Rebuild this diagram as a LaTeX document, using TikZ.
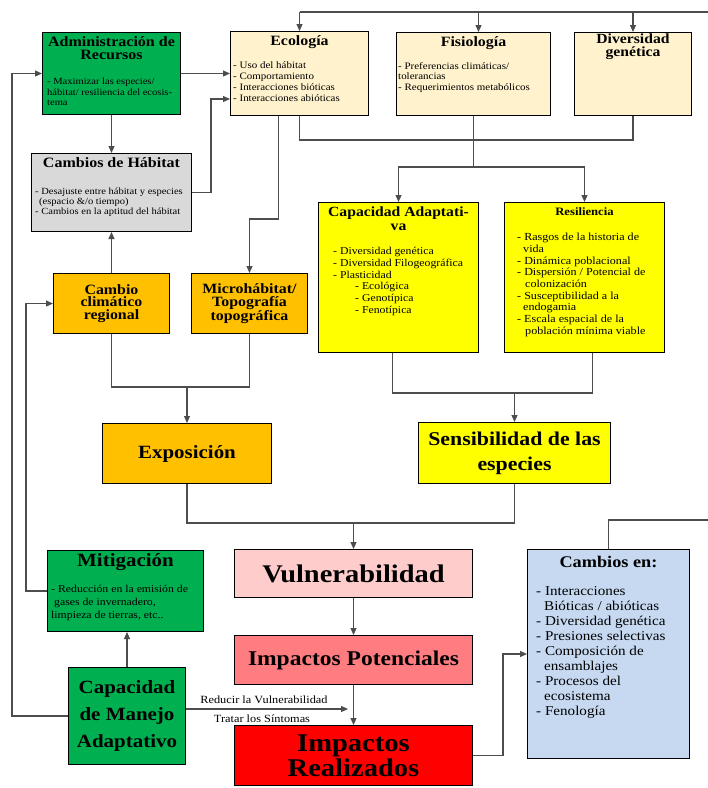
\documentclass[tikz,border=0pt]{standalone}
\usepackage{fontspec}
\setmainfont[FakeStretch=1.12]{Liberation Serif}
\usetikzlibrary{positioning,arrows.meta}
\definecolor{verde}{HTML}{00B050}
\definecolor{crema}{HTML}{FFF2CC}
\definecolor{grisclaro}{HTML}{D9D9D9}
\definecolor{naranja}{HTML}{FFC000}
\definecolor{amarillo}{HTML}{FFFF00}
\definecolor{rosa}{HTML}{FFCCCC}
\definecolor{salmon}{HTML}{FF7C80}
\definecolor{rojo}{HTML}{FF0000}
\definecolor{celeste}{HTML}{C6D9F1}
\definecolor{linea}{HTML}{4D4D4D}
\newcommand{\tam}[2]{\fontsize{#1}{#2}\selectfont}

\tikzset{
  caja/.style={draw=black, line width=1pt, inner sep=0pt, anchor=north west},
  titulo/.style={align=center, inner sep=0pt, anchor=north},
  cuerpo/.style={align=left, inner sep=0pt, anchor=north west},
  conector/.style={draw=linea, line width=1.1pt},
  flecha/.style={conector, -{Triangle[length=7pt,width=6pt]}}
}

\begin{document}
\begin{tikzpicture}[x=1pt, y=-1pt]
\useasboundingbox (0,0) rectangle (708,788);

% fila superior
\node[caja, fill=verde, minimum width=138pt, minimum height=82pt] (adm) at (42,32) {};
\node[titulo, font=\tam{14.3}{13.6}\bfseries, below=4pt of adm.north] (admT) {Administración de\\Recursos};
\node[cuerpo, font=\tam{9.4}{10.5}] (admC) at ([xshift=5pt,yshift=-46pt]adm.north west) {- Maximizar las especies/\\hábitat/ resiliencia del ecosis-\\tema};

\node[caja, fill=crema, minimum width=138pt, minimum height=84pt] (eco) at (230,31) {};
\node[titulo, font=\tam{14.2}{15}\bfseries, below=4pt of eco.north] (ecoT) {Ecología};
\node[cuerpo, font=\tam{9.8}{11.3}] (ecoC) at ([xshift=3pt,yshift=-30pt]eco.north west) {- Uso del hábitat\\- Comportamiento\\- Interacciones bióticas\\- Interacciones abióticas};

\node[caja, fill=crema, minimum width=154pt, minimum height=83pt] (fis) at (396,32) {};
\node[titulo, font=\tam{14.2}{15}\bfseries, below=4pt of fis.north] (fisT) {Fisiología};
\node[cuerpo, font=\tam{9.8}{10.5}] (fisC) at ([xshift=2pt,yshift=-30pt]fis.north west) {- Preferencias climáticas/\\tolerancias\\- Requerimientos metabólicos};

\node[caja, fill=crema, minimum width=117pt, minimum height=83pt] (div) at (574,32) {};
\node[titulo, font=\tam{14}{13}\bfseries, below=2pt of div.north] (divT) {Diversidad\\genética};

% columna izquierda
\node[caja, fill=grisclaro, minimum width=160pt, minimum height=78pt] (hab) at (31,153) {};
\node[titulo, font=\tam{14.3}{15}\bfseries, below=4pt of hab.north] (habT) {Cambios de Hábitat};
\node[cuerpo, font=\tam{9.4}{10}] (habC) at ([xshift=4pt,yshift=-35pt]hab.north west) {- Desajuste entre hábitat y especies\\\hspace*{4pt}(espacio \&/o tiempo)\\- Cambios en la aptitud del hábitat};

\node[caja, fill=naranja, minimum width=116pt, minimum height=60pt, font=\tam{14.2}{12.8}\bfseries, align=center] (cli) at (53,273) {Cambio\\climático\\regional};
\node[caja, fill=naranja, minimum width=116pt, minimum height=60pt, font=\tam{14.2}{12.8}\bfseries, align=center] (micro) at (191,273) {Microhábitat/\\Topografía\\topográfica};

% capacidad y resiliencia
\node[caja, fill=amarillo, minimum width=160pt, minimum height=150pt] (capad) at (318,202) {};
\node[titulo, font=\tam{14}{14}\bfseries, below=5pt of capad.north] (capadT) {Capacidad Adaptati-\\va};
\node[cuerpo, font=\tam{10.5}{11.8}] (capadC) at ([xshift=15pt,yshift=-45pt]capad.north west) {- Diversidad genética\\- Diversidad Filogeográfica\\- Plasticidad\\\hspace*{22pt}- Ecológica\\\hspace*{22pt}- Genotípica\\\hspace*{22pt}- Fenotípica};

\node[caja, fill=amarillo, minimum width=160pt, minimum height=150pt] (resi) at (504,202) {};
\node[titulo, font=\tam{11.3}{12}\bfseries, below=5pt of resi.north] (resiT) {Resiliencia};
\node[cuerpo, font=\tam{10.8}{11.7}] (resiC) at ([xshift=13pt,yshift=-31pt]resi.north west) {- Rasgos de la historia de\\\hspace*{6pt}vida\\- Dinámica poblacional\\- Dispersión / Potencial de\\\hspace*{8pt}colonización\\- Susceptibilidad a la\\\hspace*{6pt}endogamia\\- Escala espacial de la\\\hspace*{8pt}población mínima viable};

% exposicion y sensibilidad
\node[caja, fill=naranja, minimum width=169pt, minimum height=60pt, font=\tam{18.7}{20}\bfseries] (expo) at (102,423) {Exposición};
\node[caja, fill=amarillo, minimum width=192pt, minimum height=61pt, font=\tam{19.5}{25}\bfseries, align=center] (sens) at (418,422) {Sensibilidad de las\\especies};

% impactos
\node[caja, fill=rosa, minimum width=238pt, minimum height=48pt, font=\tam{25.4}{28}\bfseries] (vul) at (234,549) {Vulnerabilidad};
\node[caja, fill=salmon, minimum width=238pt, minimum height=49pt, font=\tam{21}{22}\bfseries] (pot) at (234,635) {Impactos Potenciales};
\node[caja, fill=rojo, minimum width=238pt, minimum height=60pt, font=\tam{25.5}{25}\bfseries, align=center] (real) at (234,725) {Impactos\\Realizados};

\node[caja, fill=celeste, minimum width=162pt, minimum height=209pt] (cam) at (527,549) {};
\node[titulo, font=\tam{16.3}{17}\bfseries, below=7pt of cam.north] (camT) {Cambios en:};
\node[cuerpo, font=\tam{13.5}{15}] (camC) at ([xshift=9pt,yshift=-37pt]cam.north west) {- Interacciones\\\hspace*{8pt}Bióticas / abióticas\\- Diversidad genética\\- Presiones selectivas\\- Composición de\\\hspace*{8pt}ensamblajes\\- Procesos del\\\hspace*{8pt}ecosistema\\- Fenología};

% manejo
\node[caja, fill=verde, minimum width=156pt, minimum height=81pt] (mit) at (47,550) {};
\node[titulo, font=\tam{18.7}{19}\bfseries, below=3pt of mit.north] (mitT) {Mitigación};
\node[cuerpo, font=\tam{10.5}{13}] (mitC) at ([xshift=4pt,yshift=-35pt]mit.north west) {- Reducción en la emisión de\\\hspace*{3pt}gases de invernadero,\\limpieza de tierras, etc..};

\node[caja, fill=verde, minimum width=117pt, minimum height=97pt, font=\tam{18.7}{27}\bfseries, align=center] (man) at (68,667) {Capacidad\\de Manejo\\Adaptativo};

% conectores
\coordinate (bordeT) at (708,12);
\coordinate (bordeR) at (708,520);
\coordinate (ecoB) at ([xshift=-21pt]eco.south);
\coordinate (fisA) at ([xshift=5pt]fis.north);

\draw[conector] (cam.north) |- (bordeR);
\draw[conector] (bordeT) -- (eco.north |- bordeT);
\draw[flecha] (eco.north |- bordeT) -- (eco.north);
\draw[flecha] (fisA |- bordeT) -- (fisA);
\draw[flecha] (div.north |- bordeT) -- (div.north);

\draw[flecha] (adm) -- (eco);
\draw[flecha] (adm.south) -- (adm.south |- hab.north);
\draw[flecha] (hab.east) -- ++(19,0) |- ([yshift=17pt]eco.south west);
\draw[flecha] (cli.north) -- (cli.north |- hab.south);
\draw[flecha] (ecoB) -- ++(0,103) -| (micro.north);

\draw[conector] (eco.south) -- ++(0,24) -| (div.south);
\draw[conector] (fis.south) -- ++(0,51) coordinate (rama);
\draw[flecha] (rama) -| (capad.north);
\draw[flecha] (rama) -| (resi.north);

\draw[conector] (cli.south) -- ++(0,53) coordinate (jexpo) -| (micro.south);
\draw[flecha] (jexpo -| expo.north) -- (expo.north);
\draw[conector] ([xshift=-6pt]capad.south) -- ++(0,40) coordinate (jsens) -| ([xshift=8pt]resi.south);
\draw[flecha] (jsens -| sens.north) -- (sens.north);

\draw[conector] (expo.south) -- ++(0,39) coordinate (jvul) -| (sens.south);
\draw[flecha] (jvul -| vul.north) -- (vul.north);
\draw[flecha] (vul) -- (pot);
\draw[flecha] (pot) -- (real);
\draw[flecha] (real.east) -- ++(30,0) |- (cam.west);

\draw[flecha] (man.north) -- (man.north |- mit.south);
\draw[flecha] (mit.west) -- ++(-21,0) |- (cli.west);
\draw[flecha] (man.west) -- ++(-56,0) |- (adm.west);
\draw[flecha] ([yshift=7pt]man.east) -- ++(162,0)
  node[midway, above=1pt, xshift=-3pt, font=\tam{11}{11}] (reducir) {Reducir la Vulnerabilidad}
  node[midway, below=2pt, xshift=-5pt, font=\tam{11}{11}] (tratar) {Tratar los Síntomas};
\end{tikzpicture}
\end{document}
